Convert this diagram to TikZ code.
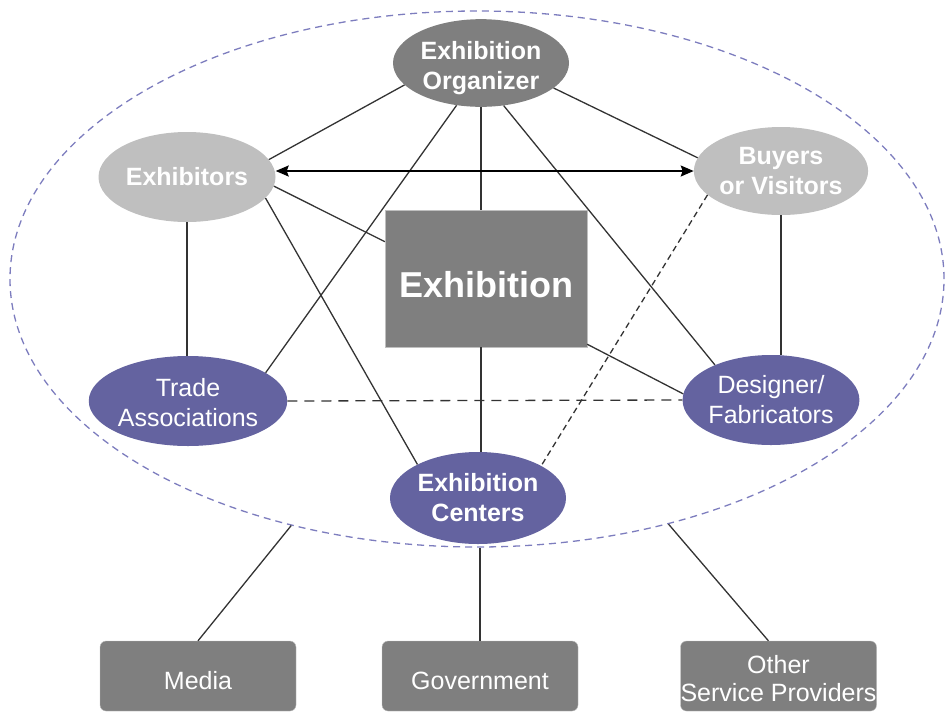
\documentclass[tikz,border=0pt]{standalone}
\usepackage{fontspec}
\setmainfont{Liberation Sans}
\usetikzlibrary{shapes.geometric,arrows.meta}
\definecolor{dgray}{RGB}{127,127,127}
\definecolor{lgray}{RGB}{191,191,191}
\definecolor{purp}{RGB}{100,99,160}
\definecolor{dashp}{RGB}{125,125,190}
\begin{document}
\begin{tikzpicture}[x=1pt,y=-1pt,
  ell/.style={ellipse, inner sep=0pt, minimum width=176pt, minimum height=90pt, text=white, align=center, font=\fontsize{25}{30}\selectfont},
  bell/.style={ell, font=\fontsize{25}{30}\selectfont\bfseries},
  box/.style={draw=black!25, fill=dgray, rounded corners=6pt, minimum width=196pt, minimum height=70pt, inner sep=0pt, text=white, align=center, font=\fontsize{25}{28}\selectfont},
  conn/.style={draw=black!80, line width=1.3pt},
  dconn/.style={conn, dash pattern=on 10pt off 7pt}
]
\useasboundingbox (0,0) rectangle (947,713);
\node[ellipse, draw=dashp, line width=1.3pt, dash pattern=on 7pt off 5pt, minimum width=934pt, minimum height=536pt, inner sep=0pt] (big) at (477,279) {};

\node[bell, fill=dgray, minimum height=86pt, text height=57pt, text depth=5pt] (org) at (481,63) {Exhibition\\Organizer};
\node[bell, fill=lgray, minimum width=177pt] (exr) at (187,177) {Exhibitors};
\node[bell, fill=lgray, minimum width=172pt, minimum height=88pt] (buy) at (781,171) {Buyers\\or Visitors};
\node[draw=lgray, fill=dgray, minimum width=202pt, minimum height=137pt, inner sep=0pt, text=white, text height=38pt, text depth=0pt, font=\fontsize{36}{40}\selectfont\bfseries] (exh) at (486,278.5) {Exhibition};
\node[ell, fill=purp, minimum width=174pt, text height=50pt, text depth=0pt] (tra) at (188,401) {Trade\\Associations};
\node[ell, fill=purp, minimum width=174pt] (des) at (771,400) {Designer/\\Fabricators};
\node[bell, fill=purp, minimum height=92pt] (cen) at (478,498) {Exhibition\\Centers};

\node[box, text height=26pt, text depth=0pt] (med) at (198,676) {Media};
\node[box, text height=26pt, text depth=0pt] (gov) at (480,676) {Government};
\node[box, text height=50pt, text depth=0pt] (oth) at (778.5,676) {Other\\Service Providers};

\draw[conn] (org.196) -- (exr.12);
\draw[conn] (org.-19) -- (buy.171);
\draw[conn] (org.240) -- (tra.20);
\draw[conn] (org.south) -- (org.south |- exh.north);
\draw[conn] (org.-62) -- (des.148);
\draw[draw=black, line width=1.8pt, {Stealth[length=13pt,width=11pt,inset=2pt]}-{Stealth[length=13pt,width=11pt,inset=2pt]}] (exr.east |- buy.west) -- (buy.west);
\draw[conn] (exr.-6) -- (exh.160);
\draw[conn] (exr.-15) -- (cen.151);
\draw[conn] (exr.south) -- (exr.south |- tra.north);
\draw[conn] (buy.south) -- (buy.south |- des.north);
\draw[conn, dash pattern=on 6pt off 4pt] (buy.198) -- (cen.27);
\draw[conn] (exh.-33) -- (des.176);
\draw[conn] (exh.south -| org.south) -- (cen.north -| org.south);
\draw[dconn] (tra.east) -- (des.west);
\draw[conn] (big.233) -- (med.north);
\draw[conn] (big.south -| gov.north) -- (gov.north);
\draw[conn] (big.-52.5) -- (oth.106.7);
\end{tikzpicture}
\end{document}
